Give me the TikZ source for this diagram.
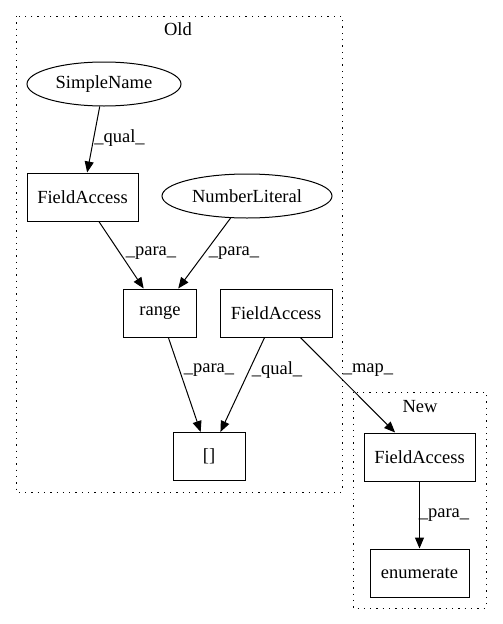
\documentclass[tikz,border=0pt]{standalone}
\usepackage{fontspec}
\setmainfont{Liberation Serif}
\usetikzlibrary{arrows.meta,shapes.geometric}
\begin{document}
\begin{tikzpicture}[x=1pt,y=-1pt,
  every node/.style={font=\fontsize{18.5}{20}\selectfont},
  boxnode/.style={draw,line width=1pt,rectangle,minimum height=48pt,inner sep=0pt},
  ellnode/.style={draw,line width=1pt,ellipse,minimum height=44pt,inner sep=0pt},
  cluster/.style={draw,line width=1pt,dash pattern=on 1.3pt off 5pt},
  edge/.style={draw,line width=1pt,-{Triangle[length=11pt,width=9pt]}},
  elabel/.style={font=\fontsize{18.5}{20}\selectfont}]
\useasboundingbox (0,0) rectangle (503,624);
% clusters
\draw[cluster] (16,16) rectangle (342,492);
\node (oldlbl) at (178,29) {Old};
\draw[cluster] (353,392) rectangle (486,608);
\node (newlbl) at (420,407) {New};
% nodes
\node[ellnode,minimum width=154pt] (sn) at (104,84) {SimpleName};
\node[boxnode,minimum width=111pt] (fa1) at (82.5,197) {FieldAccess};
\node[ellnode,minimum width=170pt] (nl) at (247,196) {NumberLiteral};
\node[boxnode,minimum width=73pt] (rg) at (160,313) {range};
\node[boxnode,minimum width=112pt] (fa2) at (276,313) {FieldAccess};
\node[boxnode,minimum width=72pt] (br) at (209,456.5) {[]};
\node[boxnode,minimum width=111pt] (fa3) at (419.5,457) {FieldAccess};
\node[boxnode,minimum width=99pt] (en) at (419.5,573) {enumerate};
% edges
\draw[edge] (sn) -- (fa1);
\draw[edge] (fa1) -- (rg);
\draw[edge] (nl) -- (rg);
\draw[edge] (rg) -- (br);
\draw[edge] (fa2) -- (br);
\draw[edge] (fa2) -- (fa3);
\draw[edge] (fa3) -- (en);
% edge labels
\node[elabel] (l1) at (119.5,138) {\_qual\_};
\node[elabel] (l2) at (151,253) {\_para\_};
\node[elabel] (l3) at (234,253) {\_para\_};
\node[elabel] (l4) at (209,370) {\_para\_};
\node[elabel] (l5) at (277,370) {\_qual\_};
\node[elabel] (l6) at (368,370) {\_map\_};
\node[elabel] (l7) at (444,515) {\_para\_};
\end{tikzpicture}
\end{document}
